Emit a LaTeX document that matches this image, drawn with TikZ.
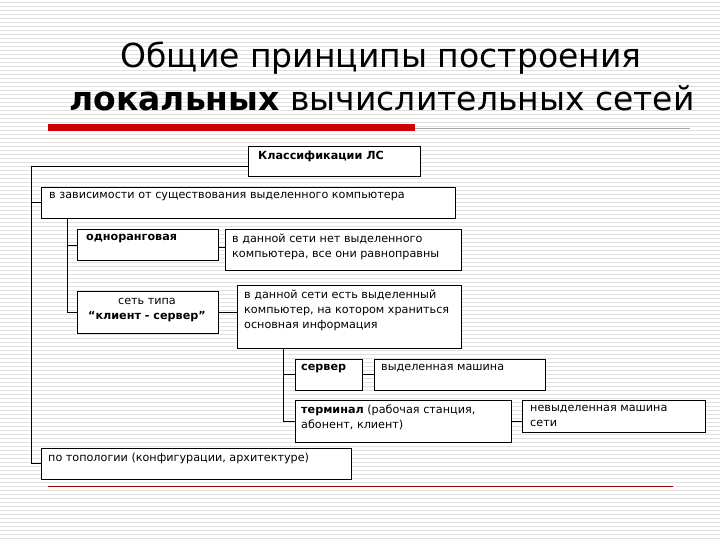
\documentclass[tikz,border=0pt]{standalone}
\usepackage{fontspec}
\setmainfont{DejaVu Sans}
\begin{document}
\begin{tikzpicture}[x=1pt,y=-1pt,
  bx/.style={draw,fill=white,line width=0.8pt,inner sep=0pt,anchor=north west},
  tx/.style={font=\fontsize{11.2}{15}\selectfont,align=left,anchor=north west,inner sep=0pt},
  ln/.style={line width=0.8pt}]
\useasboundingbox (0,0) rectangle (720,540);
\fill[white] (0,0) rectangle (720,540);
\foreach \y in {2,6,...,538} \draw[black!12,line width=0.6pt] (0,\y) -- (720,\y);
% title
\node[font=\fontsize{33}{40}\selectfont] (t1) at (381,58) {Общие принципы построения};
\node[font=\fontsize{33}{40}\selectfont] (t2) at (382,98) {\textbf{локальных} вычислительных сетей};
\fill[red!80!black] (48,124) rectangle (415,131);
\draw[black!35,line width=0.6pt] (415,128) -- (690,128);
\draw[red!60!black,line width=0.7pt] (48,486) -- (673,486);
% boxes
\draw[bx] (248,146) rectangle (420,176);
\node[tx,font=\fontsize{11.2}{15}\selectfont\bfseries] (klt) at (258,151) {Классификации ЛС};
\draw[bx] (41,187) rectangle (455,218);
\node[tx] (zt) at (49,192) {в зависимости от существования выделенного компьютера};
\draw[bx] (77,229) rectangle (218,260);
\node[tx,font=\fontsize{11.2}{15}\selectfont\bfseries] (ot) at (86,234) {одноранговая};
\draw[bx] (225,229) rectangle (461,270);
\node[tx] (o2) at (232,234) {в данной сети нет выделенного\\компьютера, все они равноправны};
\draw[bx] (77,291) rectangle (218,333);
\node[font=\fontsize{11.2}{15}\selectfont,align=center,inner sep=0pt] (kst) at (147,310) {сеть типа\\\textbf{“клиент - сервер”}};
\draw[bx] (237,285) rectangle (461,348);
\node[tx] (k2) at (244,290) {в данной сети есть выделенный\\компьютер, на котором храниться\\основная информация};
\draw[bx] (295,359) rectangle (362,390);
\node[tx,font=\fontsize{11.2}{15}\selectfont\bfseries] (st) at (301,364) {сервер};
\draw[bx] (374,359) rectangle (545,390);
\node[tx] (s2) at (381,364) {выделенная машина};
\draw[bx] (295,400) rectangle (511,442);
\node[tx] (tt) at (301,405) {\textbf{терминал} (рабочая станция,\\абонент, клиент)};
\draw[bx] (522,400) rectangle (705,432);
\node[tx] (t2b) at (530,405) {невыделенная машина\\сети};
\draw[bx] (41,448) rectangle (351,479);
\node[tx] (pt) at (48,453) {по топологии (конфигурации, архитектуре)};
% connectors
\draw[ln] (248,166) -- (31,166) -- (31,463) -- (41,463);
\draw[ln] (31,202) -- (41,202);
\draw[ln] (67,218) -- (67,312) -- (77,312);
\draw[ln] (67,245) -- (77,245);
\draw[ln] (218,247) -- (225,247);
\draw[ln] (218,312) -- (237,312);
\draw[ln] (283,348) -- (283,421) -- (295,421);
\draw[ln] (283,374) -- (295,374);
\draw[ln] (362,374) -- (374,374);
\draw[ln] (511,421) -- (522,421);
\end{tikzpicture}
\end{document}
